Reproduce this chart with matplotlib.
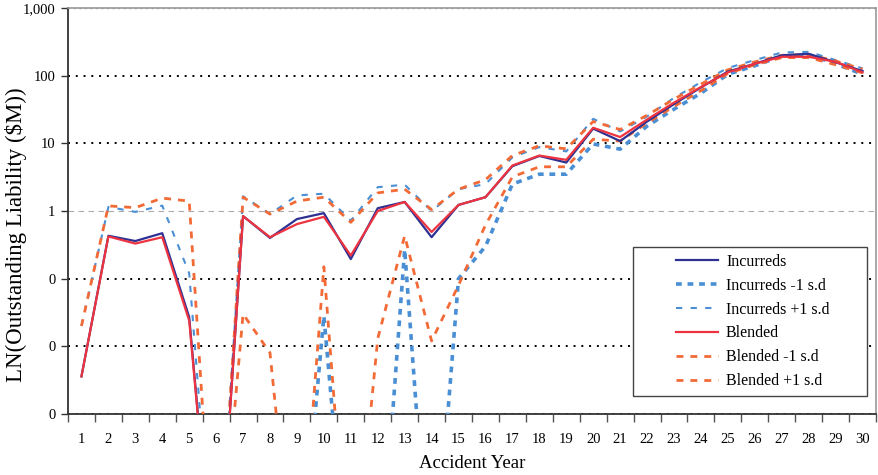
import numpy as np
import matplotlib
matplotlib.use("Agg")
import matplotlib.pyplot as plt
from matplotlib.patches import Rectangle

plt.rcParams['font.family'] = ['Liberation Serif', 'DejaVu Serif']

# outstanding liability by accident year ($M); 0 = nil / negative (off the log scale)
years = list(range(1, 31))
incurreds = [0.0036, 0.43, 0.36, 0.47, 0.027, 0, 0.84, 0.40, 0.76, 0.93,
             0.195, 1.1, 1.36, 0.41, 1.23, 1.6, 4.6, 6.5, 5.2, 16.5,
             10.8, 21, 38, 67, 115, 150, 200, 210, 158, 117]
incurreds_lo = [0, 0, 0, 0, 0, 0, 0, 0, 0, 0.028,
                0, 0, 0.27, 0, 0.1, 0.3, 2.5, 3.5, 3.5, 9.8,
                8.2, 18, 32, 55, 105, 140, 195, 205, 150, 105]
incurreds_hi = [0.02, 1.15, 0.97, 1.2, 0.12, 0, 1.65, 0.9, 1.7, 1.8,
                0.72, 2.25, 2.45, 1.0, 2.1, 2.5, 6.2, 8.8, 7.6, 23,
                15, 25, 47, 80, 130, 170, 220, 225, 170, 128]
blended = [0.0036, 0.42, 0.33, 0.41, 0.024, 0, 0.84, 0.41, 0.64, 0.82,
           0.22, 1.0, 1.36, 0.49, 1.23, 1.6, 4.7, 6.6, 5.7, 17,
           12.4, 22.5, 40, 68, 112, 150, 190, 190, 160, 112]
blended_lo = [0, 0, 0, 0, 0, 0, 0.03, 0.008, 0, 0.15,
              0, 0.013, 0.43, 0.012, 0.08, 0.62, 3.2, 4.5, 4.5, 11.5,
              10.8, 20, 35, 60, 108, 145, 185, 185, 145, 110]
blended_hi = [0.02, 1.19, 1.12, 1.55, 1.4, 0, 1.6, 0.9, 1.4, 1.6,
              0.68, 1.85, 2.1, 1.05, 2.1, 2.9, 6.6, 9.2, 8.3, 21,
              16, 26, 45, 75, 122, 160, 200, 205, 165, 125]

ytick_vals = [0.001, 0.01, 0.1, 1, 10, 100, 1000]
ytick_labels = ['0', '0', '0', '1', '10', '100', '1,000']

navy = '#2E3192'
blue = '#4A8FD4'
red = '#EE3340'
orange = '#F26A36'


def floor(v):
    # nil values drop off the bottom of the log axis
    v = np.asarray(v, dtype=float)
    return np.where(v > 0, v, 1e-6)


fig = plt.figure(figsize=(8.79, 4.75), dpi=100)
ax = fig.add_axes([68 / 879, 61 / 475, 808 / 879, 406 / 475])

ax.plot(years, floor(incurreds), color=navy, lw=1.6, label='Incurreds', zorder=5)
ax.plot(years, floor(incurreds_lo), color=blue, lw=2.6, ls=(0, (1.6, 1.6)),
        label='Incurreds -1 s.d', zorder=4)
ax.plot(years, floor(incurreds_hi), color=blue, lw=1.5, ls=(0, (3, 4)),
        label='Incurreds +1 s.d', zorder=4)
ax.plot(years, floor(blended), color=red, lw=1.6, label='Blended', zorder=6)
ax.plot(years, floor(blended_lo), color=orange, lw=2, ls=(0, (2.5, 2.5)),
        label='Blended -1 s.d', zorder=4)
ax.plot(years, floor(blended_hi), color=orange, lw=2, ls=(0, (2.5, 2.5)),
        label='Blended +1 s.d', zorder=4)

ax.set_yscale('log')
ax.set_ylim(0.001, 1000)
ax.set_yticks(ytick_vals)
ax.set_yticklabels(ytick_labels)
ax.yaxis.set_minor_locator(matplotlib.ticker.NullLocator())
ax.tick_params(axis='y', length=5, width=1, pad=4, labelsize=10.5, color='#333333')

ax.set_xlim(0.5, 30.5)
ax.set_xticks(years)
ax.set_xticklabels([str(y) for y in years])
ax.set_xticks(np.arange(0.5, 31, 1), minor=True)
ax.tick_params(axis='x', which='major', length=0, pad=14, labelsize=10.5)
ax.tick_params(axis='x', which='minor', length=6, width=1, color='#555555')

ax.grid(axis='y', which='major', color='black', lw=1.4, ls=(0, (1, 3)))
for val, gl in zip(ytick_vals, ax.get_ygridlines()):
    if val == 1:
        gl.set_color('#aaaaaa')
        gl.set_lw(0.8)
        gl.set_linestyle((0, (5, 4)))
    elif val == 1000:
        gl.set_color('#888888')
        gl.set_lw(1)
ax.set_axisbelow(True)

for side in ['left', 'bottom']:
    ax.spines[side].set_color('#333333')
    ax.spines[side].set_linewidth(1.3)
for side in ['top', 'right']:
    ax.spines[side].set_color('#999999')
    ax.spines[side].set_linewidth(1.2)

ax.set_ylabel('LN(Outstanding Liability ($M))', fontsize=16.5)
ax.yaxis.set_label_coords(-41 / 808, 179 / 406)
ax.set_xlabel('Accident Year', fontsize=13.5, labelpad=6)

# legend box
box = Rectangle((565 / 808, 18 / 406), 234 / 808, 149 / 406, transform=ax.transAxes,
                facecolor='white', edgecolor='#444444', lw=1, zorder=9)
ax.add_patch(box)
leg = ax.legend(loc='center', bbox_to_anchor=((565 + 117 + 3) / 808, (18 + 74.5) / 406),
                frameon=False, fontsize=11.5, handlelength=2.6, handletextpad=0.5,
                labelspacing=0.5)
leg.set_zorder(10)

fig.savefig('out.png', dpi=100)
